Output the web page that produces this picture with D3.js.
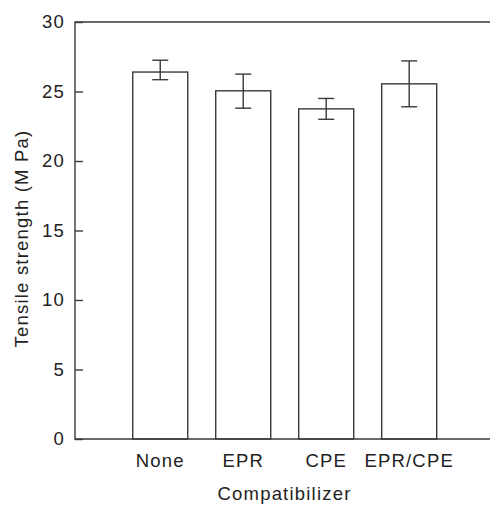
<!doctype html>
<html lang="en">
<head>
	<meta charset="utf-8">
	<title>Tensile strength vs compatibilizer</title>
	<style>
html, body {
	margin: 0;
	padding: 0;
	background: #fff;
	overflow: hidden;
}
svg text {
	font-family: 'Liberation Sans', Arial, sans-serif;
	font-size: 18.5px;
	fill: #222;
	letter-spacing: 1.2px;
}
.frame, .tick line, .bar, .err {
	stroke: #3a3a3a;
	stroke-width: 1.4px;
	fill: none;
}
.bar {
	fill: #fff;
}
	</style>
</head>
<body>
	<div id="container"></div>

	<script src="https://cdnjs.cloudflare.com/ajax/libs/d3/7.8.5/d3.min.js"></script>
	<script>
/* DATA */
var categories = ['None', 'EPR', 'CPE', 'EPR/CPE'];
var strength = [26.4, 25.05, 23.75, 25.55];
var errLow = [25.85, 23.8, 23.0, 23.9];
var errHigh = [27.25, 26.25, 24.5, 27.2];
var yTicks = [0, 5, 10, 15, 20, 25, 30];

(function (d3) {
	'use strict';

	var W = 490, H = 505;
	var m = { top: 22, right: 0, bottom: 66, left: 75 };

	var svg = d3.select('#container').append('svg')
		.attr('width', W)
		.attr('height', H);

	var x = d3.scaleBand()
		.domain(categories)
		.range([m.left, W - m.right])
		.paddingInner(0.337)
		.paddingOuter(0.669)
		.align(0.52);

	var y = d3.scaleLinear()
		.domain([0, 30])
		.range([H - m.bottom, m.top]);

	var rows = categories.map(function (c, i) {
		return { name: c, v: strength[i], lo: errLow[i], hi: errHigh[i] };
	});

	/* bars */
	svg.append('g').selectAll('rect')
		.data(rows).enter()
		.append('rect')
		.attr('class', 'bar')
		.attr('x', function (d) { return x(d.name); })
		.attr('y', function (d) { return y(d.v); })
		.attr('width', x.bandwidth())
		.attr('height', function (d) { return y(0) - y(d.v); });

	/* error bars */
	var cap = 8;
	var eg = svg.append('g').selectAll('g')
		.data(rows).enter()
		.append('g')
		.attr('transform', function (d) { return 'translate(' + (x(d.name) + x.bandwidth() / 2) + ',0)'; });
	eg.append('line').attr('class', 'err')
		.attr('x1', 0).attr('x2', 0)
		.attr('y1', function (d) { return y(d.lo); })
		.attr('y2', function (d) { return y(d.hi); });
	eg.append('line').attr('class', 'err')
		.attr('x1', -cap).attr('x2', cap)
		.attr('y1', function (d) { return y(d.hi); })
		.attr('y2', function (d) { return y(d.hi); });
	eg.append('line').attr('class', 'err')
		.attr('x1', -cap).attr('x2', cap)
		.attr('y1', function (d) { return y(d.lo); })
		.attr('y2', function (d) { return y(d.lo); });

	/* y axis, inward ticks */
	var ya = svg.append('g')
		.attr('transform', 'translate(' + m.left + ',0)')
		.call(d3.axisLeft(y).tickValues(yTicks).tickSizeInner(-8).tickSizeOuter(0).tickPadding(10));
	ya.select('.domain').remove();
	ya.selectAll('.tick text').style('font-size', '18.5px').attr('fill', '#222');

	/* frame: left, top, bottom */
	svg.append('path')
		.attr('class', 'frame')
		.attr('d', 'M' + (W - m.right) + ',' + y(30) + 'H' + m.left + 'V' + y(0) + 'H' + (W - m.right));

	/* x labels */
	svg.append('g').selectAll('text')
		.data(categories).enter()
		.append('text')
		.attr('x', function (d) { return x(d) + x.bandwidth() / 2; })
		.attr('y', y(0) + 28)
		.attr('text-anchor', 'middle')
		.text(function (d) { return d; });

	svg.append('text')
		.attr('x', (m.left + W - m.right) / 2 + 2)
		.attr('y', H - 5)
		.attr('text-anchor', 'middle')
		.text('Compatibilizer');

	svg.append('text')
		.attr('transform', 'translate(28,' + ((y(0) + y(30)) / 2 + 8) + ') rotate(-90)')
		.attr('text-anchor', 'middle')
		.text('Tensile strength (M Pa)');
})(window.d3);
	</script>
</body>
</html>
